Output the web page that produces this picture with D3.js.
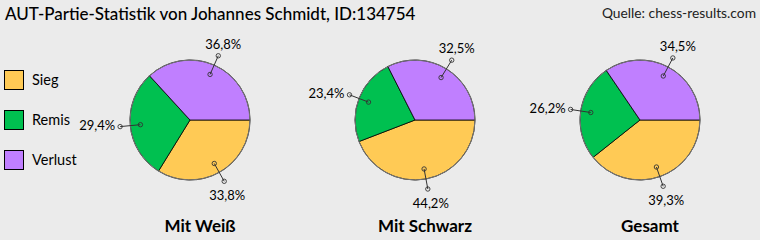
<!DOCTYPE html>
<html>
<head>
<meta charset="utf-8">
<script src="https://cdn.jsdelivr.net/npm/d3@7"></script>
<style>
  body { margin: 0; background: #ebebeb; }
  svg { display: block; font-family: Lato, "Open Sans", sans-serif; }
</style>
</head>
<body>
<div id="chart"></div>
<script>
// data
var title = "AUT-Partie-Statistik von Johannes Schmidt, ID:134754";
var source = "Quelle: chess-results.com";
var categories = ["Sieg", "Remis", "Verlust"];
var charts = ["Mit Weiß", "Mit Schwarz", "Gesamt"];
var sieg = [33.8, 44.2, 39.3];
var remis = [29.4, 23.4, 26.2];
var verlust = [36.8, 32.5, 34.5];

var width = 760, height = 240, radius = 60;

var svg = d3.select("#chart").append("svg")
    .attr("width", width)
    .attr("height", height);

svg.append("rect").attr("width", width).attr("height", height).attr("fill", "#ebebeb");

var color = d3.scaleOrdinal()
    .domain(categories)
    .range(["#ffca55", "#00c050", "#c07fff"]);

var x = d3.scalePoint().domain(charts).range([190, 640]);
var cy = 120;

svg.append("text")
    .attr("x", 5).attr("y", 20)
    .style("font-size", "17px")
    .style("font-weight", 500)
    .attr("fill", "#000")
    .text(title);

svg.append("text")
    .attr("x", 756).attr("y", 18)
    .attr("text-anchor", "end")
    .style("font-size", "13.8px")
    .attr("fill", "#222")
    .text(source);

// legend
var legend = svg.selectAll(".legend")
  .data(categories)
  .enter().append("g")
    .attr("class", "legend")
    .attr("transform", function(d, i) { return "translate(4," + (70 + i * 40) + ")"; });

legend.append("rect")
    .attr("x", 0.5).attr("y", 0.5)
    .attr("width", 19).attr("height", 19)
    .attr("fill", function(d) { return color(d); })
    .attr("stroke", "#000");

legend.append("text")
    .attr("x", 28).attr("y", 10)
    .attr("dy", "0.35em")
    .style("font-size", "14.5px")
    .text(function(d) { return d; });

var pie = d3.pie()
    .sort(null)
    .value(function(d) { return d.value; })
    .startAngle(Math.PI / 2)
    .endAngle(Math.PI / 2 + 2 * Math.PI);

var arc = d3.arc().innerRadius(0).outerRadius(radius);
var fmt = function(v) { return String(v.toFixed(1)).replace(".", ",") + "%"; };

charts.forEach(function(name, i) {
  var data = [
    {key: "Sieg", value: sieg[i]},
    {key: "Remis", value: remis[i]},
    {key: "Verlust", value: verlust[i]}
  ];
  var g = svg.append("g").attr("transform", "translate(" + x(name) + "," + cy + ")");
  var arcs = pie(data);

  g.selectAll(".slice")
    .data(arcs)
    .enter().append("path")
      .attr("class", "slice")
      .attr("d", arc)
      .attr("fill", function(d) { return color(d.data.key); })
      .attr("stroke", "#000")
      .attr("stroke-width", 0.8);

  g.append("circle").attr("r", radius).attr("fill", "none")
    .attr("stroke", "#777").attr("stroke-width", 1);

  arcs.forEach(function(d) {
    var a = (d.startAngle + d.endAngle) / 2;
    var sx = Math.sin(a), sy = -Math.cos(a);
    var p1 = [sx * radius * 0.83, sy * radius * 0.83];
    var p2 = [sx * radius * 1.17, sy * radius * 1.17];
    g.append("line")
      .attr("x1", p1[0]).attr("y1", p1[1])
      .attr("x2", p2[0]).attr("y2", p2[1])
      .attr("stroke", "#333").attr("stroke-width", 1);
    [p1, p2].forEach(function(p) {
      g.append("circle").attr("cx", p[0]).attr("cy", p[1]).attr("r", 2.2)
        .attr("fill", "none").attr("stroke", "#333").attr("stroke-width", 0.9);
    });
    var t = g.append("text").style("font-size", "13px").text(fmt(d.data.value));
    if (Math.abs(sx) > 0.75) {
      t.attr("x", p2[0] + (sx < 0 ? -5 : 5)).attr("y", p2[1] - 1)
        .attr("dy", "0.35em")
        .attr("text-anchor", sx < 0 ? "end" : "start");
    } else if (sy < 0) {
      t.attr("x", p2[0] + 5).attr("y", p2[1] - 7).attr("text-anchor", "middle");
    } else {
      t.attr("x", p2[0] + 3).attr("y", p2[1] + 19).attr("text-anchor", "middle");
    }
  });

  svg.append("text")
    .attr("x", x(name) + 10).attr("y", 232)
    .attr("text-anchor", "middle")
    .style("font-size", "17px")
    .style("font-weight", "bold")
    .text(name);
});
</script>
</body>
</html>
